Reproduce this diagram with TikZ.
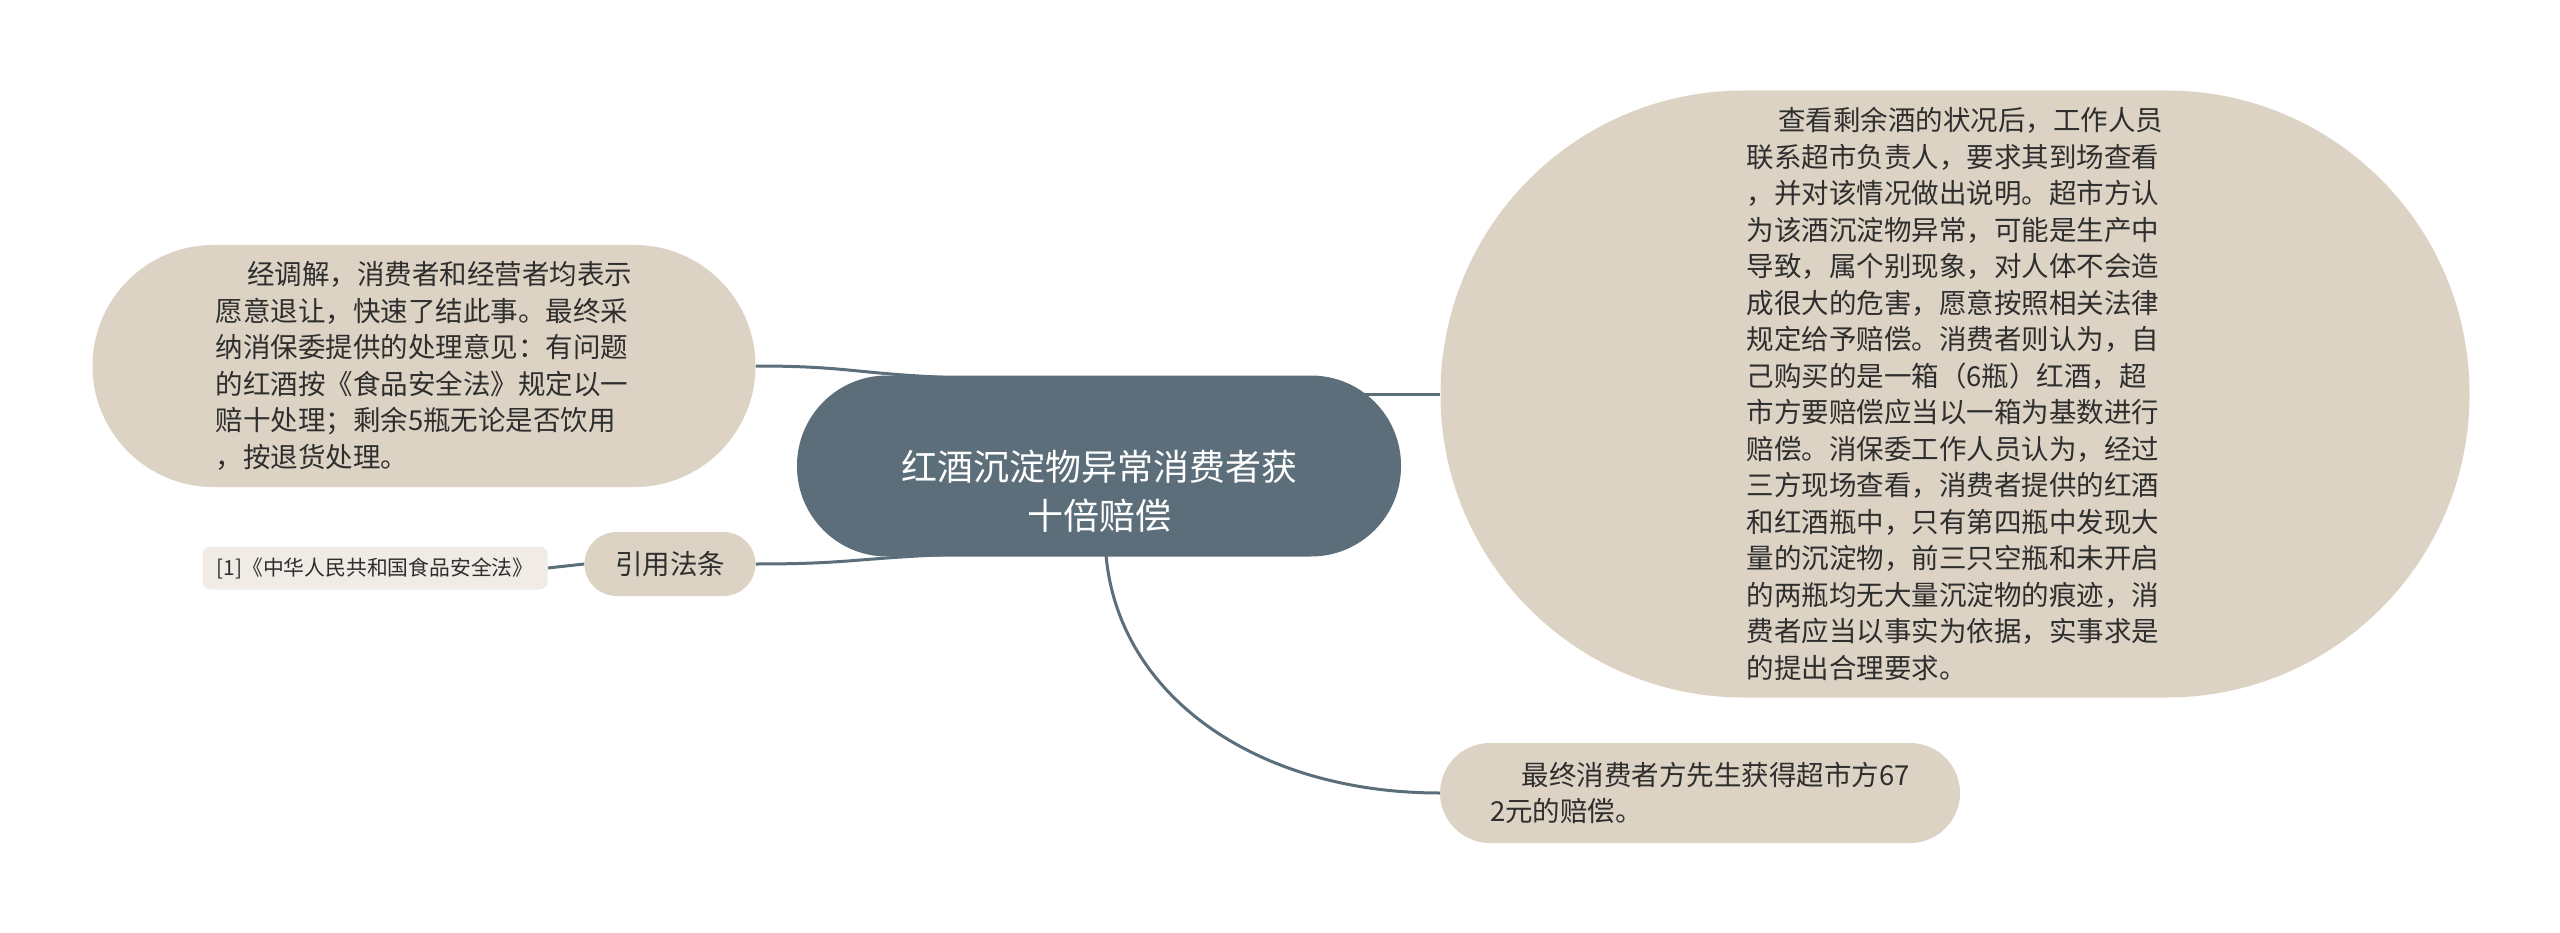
\documentclass[tikz,border=0pt]{standalone}
\usepackage{fontspec}
\newfontfamily\cjk{Noto Sans CJK SC}
\usetikzlibrary{backgrounds,calc}
\definecolor{beige}{HTML}{DDD3C4}
\definecolor{slate}{HTML}{5B6E7A}
\definecolor{lightbox}{HTML}{F0ECE5}
\definecolor{txt}{HTML}{2E2E2E}
\tikzset{
  topic/.style={fill=slate, text=white, inner sep=0pt, align=center,
    font=\cjk\fontsize{36}{49}\selectfont},
  sub/.style={fill=beige, text=txt, inner sep=0pt, align=left,
    font=\cjk\fontsize{27.5}{36.5}\selectfont},
  ref/.style={fill=lightbox, text=txt, inner sep=0pt, rounded corners=8pt,
    font=\cjk\fontsize{20.8}{24}\selectfont},
  conn/.style={draw=slate, line width=3pt},
}
\newcommand{\ind}{\hspace*{1.15em}}
\begin{document}
\begin{tikzpicture}[x=1pt,y=-1pt]
\useasboundingbox (0,0) rectangle (2560,933);

% central topic
\node[topic, minimum width=604pt, minimum height=181pt, rounded corners=90pt] (c) at (1099,466) {};
\node[topic, fill=none] (ct) at (1099,491) {红酒沉淀物异常消费者获\\十倍赔偿};

% right big node
\node[sub, minimum width=1029pt, minimum height=607pt, rounded corners=303pt] (r) at (1955,394) {%
\ind 查看剩余酒的状况后，工作人员\\
联系超市负责人，要求其到场查看\\
，并对该情况做出说明。超市方认\\
为该酒沉淀物异常，可能是生产中\\
导致，属个别现象，对人体不会造\\
成很大的危害，愿意按照相关法律\\
规定给予赔偿。消费者则认为，自\\
己购买的是一箱（6瓶）红酒，超\\
市方要赔偿应当以一箱为基数进行\\
赔偿。消保委工作人员认为，经过\\
三方现场查看，消费者提供的红酒\\
和红酒瓶中，只有第四瓶中发现大\\
量的沉淀物，前三只空瓶和未开启\\
的两瓶均无大量沉淀物的痕迹，消\\
费者应当以事实为依据，实事求是\\
的提出合理要求。};

% left node
\node[sub, minimum width=663pt, minimum height=242pt, rounded corners=121pt] (l) at (424,366) {%
\ind 经调解，消费者和经营者均表示\\
愿意退让，快速了结此事。最终采\\
纳消保委提供的处理意见：有问题\\
的红酒按《食品安全法》规定以一\\
赔十处理；剩余5瓶无论是否饮用\\
，按退货处理。};

% citation node
\node[sub, align=center, minimum width=171pt, minimum height=64pt, rounded corners=32pt] (q) at (670,564) {引用法条};
\node[ref, minimum width=345pt, minimum height=43pt] (law) at (375,568) {[1]《中华人民共和国食品安全法》};

% bottom right node
\node[sub, minimum width=520pt, minimum height=100pt, rounded corners=50pt] (b) at (1700,793) {%
\ind 最终消费者方先生获得超市方67\\
2元的赔偿。};

% connectors
\coordinate (cTL) at ($(c.north west)+(147,2)$);
\coordinate (cBL) at ($(c.south west)+(147,-2)$);
\coordinate (cR) at (1364,394);
\coordinate (cB) at ($(c.south)+(7,-2)$);
\begin{scope}[on background layer]
\fill[white] (0,0) rectangle (2560,933);
\draw[conn] (l.east) .. controls +(90,0) and +(-90,-4) .. (cTL);
\draw[conn] (q.east) .. controls +(90,0) and +(-90,4) .. (cBL);
\draw[conn] (cR) -- (r.west);
\draw[conn] (cB) .. controls +(12,140) and +(-185,0) .. (b.west);
\draw[conn] (q.west) -- (law.east);
\end{scope}
\end{tikzpicture}
\end{document}
